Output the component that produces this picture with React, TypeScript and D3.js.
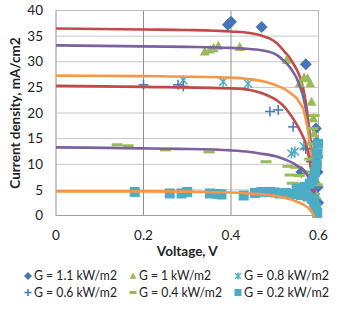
import React from "react";
import * as d3 from "d3";

// ---- data ----
const seriesNames = ["G = 1.1 kW/m2", "G = 1 kW/m2", "G = 0.8 kW/m2", "G = 0.6 kW/m2", "G = 0.4 kW/m2", "G = 0.2 kW/m2"];
const xTicks = [0, 0.2, 0.4, 0.6];
const yTicks = [0, 5, 10, 15, 20, 25, 30, 35, 40];

// measured points [V, mA/cm2]
const meas11: [number, number][] = [[0.393, 37.2], [0.4, 37.8], [0.47, 36.8], [0.571, 29.5], [0.561, 8.5], [0.594, 17.0], [0.596, 14.3], [0.597, 11.5], [0.598, 8.5], [0.598, 5.5], [0.599, 2.5]];
const meas10: [number, number][] = [[0.34, 32.0], [0.352, 32.4], [0.36, 32.7], [0.371, 33.1], [0.42, 32.9], [0.527, 30.4], [0.557, 25.8], [0.567, 27.0], [0.575, 26.8], [0.581, 25.8], [0.584, 22.2], [0.588, 19.0], [0.59, 16.0], [0.592, 13.0], [0.593, 10.0], [0.594, 7.0], [0.595, 4.0], [0.596, 1.5]];
const meas08: [number, number][] = [[0.291, 26.4], [0.382, 26.1], [0.439, 25.7], [0.538, 12.1], [0.546, 12.5], [0.566, 13.5], [0.585, 11.5], [0.589, 9.0], [0.592, 6.0], [0.594, 3.5], [0.596, 1.0]];
const meas06: [number, number][] = [[0.2, 25.5], [0.279, 25.5], [0.291, 25.2], [0.489, 20.3], [0.508, 20.6], [0.542, 17.3], [0.571, 13.0], [0.583, 10.5], [0.588, 8.0], [0.592, 5.5], [0.595, 3.0], [0.597, 1.0]];
const meas04: [number, number][] = [[0.14, 13.8], [0.165, 13.6], [0.25, 12.8], [0.35, 12.4], [0.48, 10.5], [0.53, 9.6], [0.548, 9.4], [0.535, 7.9], [0.556, 7.8], [0.54, 6.3], [0.562, 6.2], [0.572, 5.0], [0.575, 8.5], [0.58, 11.0], [0.585, 14.0], [0.587, 17.0], [0.59, 19.5], [0.582, 4.0], [0.588, 2.5], [0.592, 1.0], [0.595, 10.0], [0.597, 6.0], [0.598, 14.0]];
const meas02: [number, number][] = [[0.18, 4.6], [0.26, 4.3], [0.287, 4.3], [0.3, 4.6], [0.352, 4.3], [0.37, 4.2], [0.378, 4.1], [0.429, 3.9], [0.455, 4.4], [0.47, 4.6], [0.489, 4.6], [0.5, 4.5], [0.511, 4.3], [0.525, 4.4], [0.54, 4.2], [0.55, 5.2], [0.56, 4.0], [0.57, 5.6], [0.575, 3.7], [0.58, 6.2], [0.585, 3.3], [0.588, 7.0], [0.59, 2.5], [0.592, 8.5], [0.594, 1.5], [0.596, 10.0], [0.597, 0.5], [0.598, 12.0], [0.599, 14.0]];

// model curves [V, mA/cm2]
const fit11: [number, number][] = [[0, 36.5], [0.1, 36.4], [0.2, 36.3], [0.3, 36.2], [0.4, 35.9], [0.443, 35.6], [0.47, 35.1], [0.489, 34.5], [0.505, 33.6], [0.519, 32.3], [0.532, 31.0], [0.542, 29.7], [0.55, 28.5], [0.557, 27.2], [0.565, 24.8], [0.572, 21.5], [0.578, 17.5], [0.584, 12.8], [0.588, 8.0], [0.591, 4.0], [0.593, 0]];
const fit10: [number, number][] = [[0, 33.2], [0.2, 33.0], [0.3, 32.9], [0.4, 32.7], [0.443, 32.5], [0.489, 31.9], [0.505, 31.3], [0.519, 30.3], [0.532, 29.2], [0.542, 28.0], [0.55, 26.8], [0.557, 25.3], [0.565, 23.2], [0.572, 20.3], [0.578, 16.5], [0.584, 12.0], [0.588, 7.5], [0.591, 3.5], [0.593, 0]];
const fit08: [number, number][] = [[0, 27.3], [0.2, 27.2], [0.4, 26.9], [0.443, 26.6], [0.473, 26.2], [0.5, 25.5], [0.52, 24.8], [0.54, 23.6], [0.55, 22.9], [0.557, 22.0], [0.565, 20.8], [0.572, 18.3], [0.577, 16.0], [0.58, 14.0], [0.584, 10.5], [0.588, 6.5], [0.591, 3.0], [0.593, 0]];
const fit06: [number, number][] = [[0, 25.3], [0.2, 25.1], [0.4, 24.8], [0.443, 24.5], [0.473, 23.8], [0.504, 22.5], [0.52, 21.4], [0.534, 19.9], [0.545, 18.5], [0.557, 16.7], [0.565, 15.3], [0.572, 13.8], [0.578, 11.5], [0.584, 8.5], [0.588, 5.5], [0.591, 2.5], [0.593, 0]];
const fit04: [number, number][] = [[0, 13.3], [0.2, 13.1], [0.283, 13.0], [0.4, 12.7], [0.443, 12.4], [0.466, 12.1], [0.504, 11.5], [0.53, 10.7], [0.542, 10.2], [0.555, 9.5], [0.565, 8.9], [0.576, 7.6], [0.582, 6.0], [0.586, 4.0], [0.589, 2.0], [0.591, 0]];
const fit02: [number, number][] = [[0, 4.7], [0.2, 4.7], [0.4, 4.5], [0.443, 4.3], [0.504, 3.8], [0.542, 3.0], [0.568, 2.0], [0.58, 1.2], [0.586, 0.5], [0.591, -0.4]];

const measured = [meas11, meas10, meas08, meas06, meas04, meas02];
const fits = [fit11, fit10, fit08, fit06, fit04, fit02];
const markerKinds = ["diamond", "triangle", "star", "plus", "dash", "square"];
const markerColors = ["#4674B9", "#9BBB59", "#4BACC6", "#4A7EBB", "#9BBB59", "#4BACC6"];
const lineColors = ["#BE4B48", "#7D60A0", "#F79646", "#BE4B48", "#7D60A0", "#F79646"];

const FONT = "Lato, 'Open Sans', sans-serif";

function Marker({ kind, color, cx, cy, s }: { kind: string; color: string; cx: number; cy: number; s: number }) {
  const h = s / 2;
  if (kind === "diamond") {
    return <path d={`M${cx},${cy - h - 0.5}L${cx + h + 0.5},${cy}L${cx},${cy + h + 0.5}L${cx - h - 0.5},${cy}Z`} fill={color} />;
  }
  if (kind === "triangle") {
    return <path d={`M${cx},${cy - h}L${cx + h},${cy + h * 0.8}L${cx - h},${cy + h * 0.8}Z`} fill={color} />;
  }
  if (kind === "square") {
    return <rect x={cx - h} y={cy - h} width={s} height={s} fill={color} />;
  }
  if (kind === "dash") {
    return <rect x={cx - h} y={cy - 1.5} width={s} height={3} fill={color} />;
  }
  if (kind === "plus") {
    return (
      <g stroke={color} strokeWidth={1.6}>
        <line x1={cx - h} y1={cy} x2={cx + h} y2={cy} />
        <line x1={cx} y1={cy - h} x2={cx} y2={cy + h} />
      </g>
    );
  }
  // star: X plus vertical bar
  const d = h * 0.8;
  return (
    <g stroke={color} strokeWidth={1.5}>
      <line x1={cx - d} y1={cy - d} x2={cx + d} y2={cy + d} />
      <line x1={cx - d} y1={cy + d} x2={cx + d} y2={cy - d} />
      <line x1={cx} y1={cy - h} x2={cx} y2={cy + h} />
    </g>
  );
}

export default function App() {
  const W = 360, H = 312;
  const x = d3.scaleLinear().domain([0, 0.6]).range([56, 318.5]);
  const y = d3.scaleLinear().domain([0, 40]).range([215.5, 10.5]);
  const line = d3.line<[number, number]>().x((d) => x(d[0])).y((d) => y(d[1])).curve(d3.curveMonotoneX);
  const markerSizes = [11, 10, 10, 10, 11, 10];

  const legendCols = [28, 133, 238];
  const legendRows = [276, 292.5];
  const legendWidths = [83, 72, 85, 83, 83, 85];

  return (
    <svg width={W} height={H} style={{ position: "absolute", left: 0, top: 0, background: "#fff" }} fontFamily={FONT}>
      <rect x={0} y={0} width={W} height={H} fill="#fff" />
      {yTicks.map((t) => (
        <line key={"h" + t} x1={x(0)} x2={x(0.6)} y1={y(t)} y2={y(t)} stroke="#C6C6C6" strokeWidth={1} />
      ))}
      {xTicks.slice(1, 3).map((t) => (
        <line key={"v" + t} x1={x(t)} x2={x(t)} y1={y(40)} y2={y(0)} stroke="#8E8E8E" strokeWidth={1} />
      ))}
      <rect x={x(0)} y={y(40)} width={x(0.6) - x(0)} height={y(0) - y(40)} fill="none" stroke="#BDBDBD" strokeWidth={1} />
      <line x1={x(0)} x2={x(0.6)} y1={y(0)} y2={y(0)} stroke="#A0A0A0" />
      <line x1={x(0)} x2={x(0)} y1={y(0)} y2={y(40)} stroke="#B0B0B0" />

      {measured.map((pts, i) => (
        <g key={"s" + i}>
          {pts.map((p, j) => (
            <Marker key={j} kind={markerKinds[i]} color={markerColors[i]} cx={x(p[0])} cy={y(p[1])} s={markerSizes[i]} />
          ))}
          <path d={line(fits[i]) || ""} fill="none" stroke={lineColors[i]} strokeWidth={2.6} />
        </g>
      ))}

      {yTicks.map((t) => (
        <text key={"yl" + t} x={43} y={y(t)} dy="0.35em" textAnchor="end" fontSize={13.5} fill="#222">
          {t}
        </text>
      ))}
      {xTicks.map((t) => (
        <text key={"xl" + t} x={x(t)} y={239.5} textAnchor="middle" fontSize={13.5} fill="#222">
          {t === 0 ? "0" : t.toFixed(1)}
        </text>
      ))}
      <text x={x(0.3)} y={255.5} textAnchor="middle" fontSize={13.5} fontWeight="bold" fill="#222">
        Voltage, V
      </text>
      <text transform={`translate(19.5,${(y(0) + y(40)) / 2}) rotate(-90)`} textAnchor="middle" fontSize={13.5} fontWeight="bold" fill="#222">
        Current density, mA/cm2
      </text>

      {seriesNames.map((name, i) => {
        const cx = legendCols[i % 3];
        const cy = legendRows[Math.floor(i / 3)];
        return (
          <g key={"lg" + i}>
            <Marker kind={markerKinds[i]} color={markerColors[i]} cx={cx} cy={cy} s={7} />
            <text x={cx + 6} y={cy} dy="0.35em" fontSize={12.5} fill="#222" textLength={legendWidths[i]} lengthAdjust="spacingAndGlyphs">
              {name}
            </text>
          </g>
        );
      })}
    </svg>
  );
}
